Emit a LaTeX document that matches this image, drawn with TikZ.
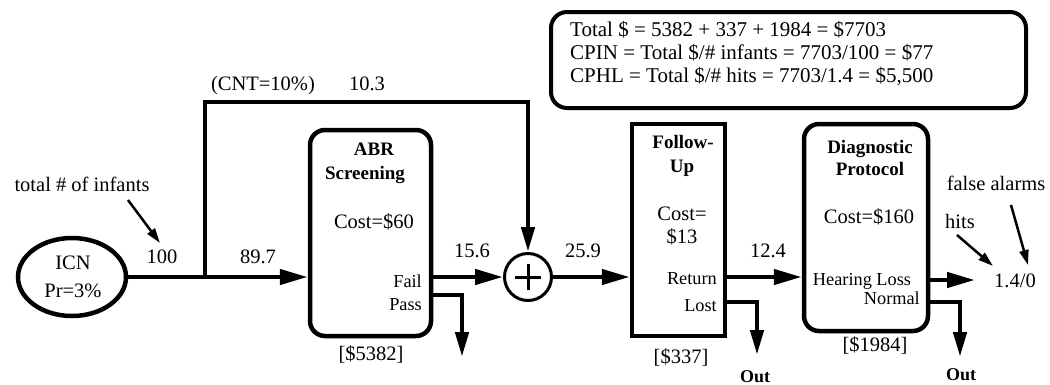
\documentclass[tikz,border=0pt]{standalone}
\usepackage{fontspec}
\setmainfont{Liberation Serif}
\usetikzlibrary{arrows.meta,shapes.geometric}
\begin{document}
\begin{tikzpicture}[x=1pt,y=-1pt,
  lbl/.style={font=\fontsize{20.5}{23}\selectfont, inner sep=0pt, anchor=base},
  sml/.style={font=\fontsize{18.3}{22}\selectfont, inner sep=0pt, anchor=base east},
  ttl/.style={font=\fontsize{19}{23}\selectfont\bfseries, inner sep=0pt, anchor=base},
  outl/.style={font=\fontsize{18}{22}\selectfont\bfseries, inner sep=0pt, anchor=base},
  summ/.style={font=\fontsize{21}{23}\selectfont, inner sep=0pt, anchor=base west},
  flow/.style={line width=4.5pt, -{Triangle[length=28pt,width=15pt]}},
  drop/.style={line width=4.5pt, -{Triangle[length=25pt,width=13pt]}},
  note/.style={line width=2.5pt, -{Triangle[length=15pt,width=9pt]}},
  stage/.style={draw, line width=4.5pt, inner sep=0pt},
]
\useasboundingbox (0,0) rectangle (1050,384);

% blocks
\node[stage, ellipse, minimum width=108pt, minimum height=78pt] (icn) at (72,277) {};
\node[stage, rounded corners=15pt, minimum width=121pt, minimum height=206pt] (abr) at (370.5,233) {};
\node[draw, circle, line width=3pt, minimum size=47pt, inner sep=0pt] (sum) at (528,277) {};
\node[stage, minimum width=93pt, minimum height=212pt] (fu) at (678.5,230) {};
\node[stage, rounded corners=15pt, minimum width=124pt, minimum height=207pt] (dp) at (866,227.5) {};
\node[draw, line width=4pt, rounded corners=16pt, minimum width=475pt, minimum height=96pt, inner sep=0pt] (sumbox) at (788.5,60) {};

% plus sign
\draw[line width=3pt] (sum.center) ++(-13,0) -- ++(26,0);
\draw[line width=3pt] (sum.center) ++(0,-13) -- ++(0,26);

% texts
\node[lbl] (icnA) at (73,269) {ICN};
\node[lbl] (icnB) at (73,297) {Pr=3\%};
\node[lbl] (tot) at (82,191) {total \# of infants};
\node[lbl] (n100) at (162,263) {100};
\node[lbl] (n897) at (258,263) {89.7};
\node[lbl] (cnt) at (263,90) {(CNT=10\%)};
\node[lbl] (n103) at (367,90) {10.3};
\node[ttl] (abrA) at (374,155) {ABR};
\node[ttl] (abrB) at (365,179) {Screening};
\node[lbl] (abrC) at (374,228) {Cost=\$60};
\node[sml] (fail) at (422,287) {Fail};
\node[sml] (pass) at (422,310) {Pass};
\node[lbl] (abrD) at (371,360) {[\$5382]};
\node[lbl] (n156) at (472,257) {15.6};
\node[lbl] (n259) at (583,257) {25.9};
\node[ttl] (fuA) at (683,148) {Follow-};
\node[ttl] (fuB) at (682,172) {Up};
\node[lbl] (fuC) at (682,220) {Cost=};
\node[lbl] (fuD) at (682,243) {\$13};
\node[sml] (ret) at (717,284) {Return};
\node[sml] (lost) at (717,311) {Lost};
\node[lbl] (fuE) at (681,363) {[\$337]};
\node[outl] (out1) at (755,382) {Out};
\node[lbl] (n124) at (768,257) {12.4};
\node[ttl] (dpA) at (870,153) {Diagnostic};
\node[ttl] (dpB) at (870,175) {Protocol};
\node[lbl] (dpC) at (869,223) {Cost=\$160};
\node[sml, anchor=base] (hl) at (862,285) {Hearing Loss};
\node[sml] (norm) at (920,304) {Normal};
\node[lbl] (dpD) at (875,351) {[\$1984]};
\node[outl] (out2) at (961,380) {Out};
\node[lbl] (res) at (1015,287) {1.4/0};
\node[lbl] (hits) at (960,228) {hits};
\node[lbl] (fa) at (996,190) {false alarms};
\node[summ] (s1) at (570,36) {Total \$ = 5382 + 337 + 1984 = \$7703};
\node[summ] (s2) at (570,59) {CPIN = Total \$/\# infants = 7703/100 = \$77};
\node[summ] (s3) at (570,82) {CPHL = Total \$/\# hits = 7703/1.4 = \$5,500};

% coordinates
\coordinate (split) at (205,277);
\coordinate (bypass) at (528,102);
\coordinate (passend) at (462,357);
\coordinate (lostend) at (757,355);
\coordinate (normend) at (960,357);
\coordinate (hlend) at (975,280);
\coordinate (totS) at (128,200);
\coordinate (totE) at (160,243);
\coordinate (hitsS) at (957,235);
\coordinate (hitsE) at (993,266);
\coordinate (faS) at (1011,205);
\coordinate (faE) at (1028,265);

% connectors
\draw[line width=4.5pt] (icn.east) -- (split);
\draw[flow] (split) -- (split -| abr.west);
\draw[drop] (split) |- (bypass) -- (sum.north);
\draw[flow] (sum.west -| abr.east) -- (sum.west);
\draw[drop] (abr.east |- 0,295) -| (passend);
\draw[flow] (sum.east) -- (sum.east -| fu.west);
\draw[flow] (fu.east |- 0,277) -- (dp.west |- 0,277);
\draw[drop] (fu.east |- 0,302) -| (lostend);
\draw[flow] (dp.east |- 0,280) -- (hlend);
\draw[drop] (dp.east |- 0,302) -| (normend);
\draw[note] (totS) -- (totE);
\draw[note] (hitsS) -- (hitsE);
\draw[note] (faS) -- (faE);
\end{tikzpicture}
\end{document}
